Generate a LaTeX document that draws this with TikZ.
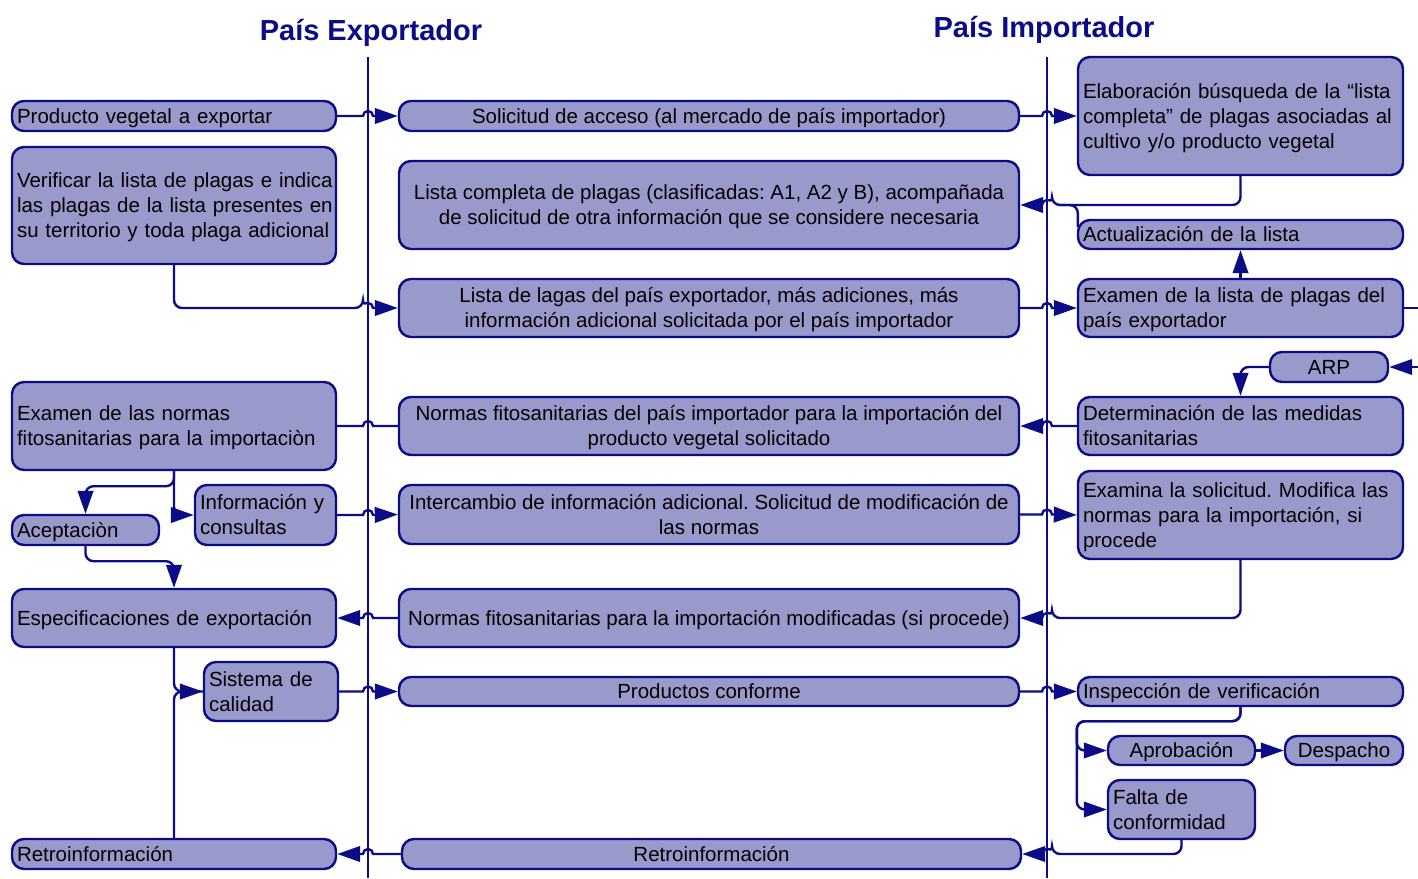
\documentclass[tikz,border=0pt]{standalone}
\usepackage{fontspec}
\setmainfont{Liberation Sans}
\usetikzlibrary{arrows.meta,calc}
\definecolor{navy}{RGB}{12,12,135}
\definecolor{boxfill}{RGB}{153,153,204}
\newcommand\st{\rule[-5pt]{0pt}{24.6pt}}
\tikzset{
 box/.style={draw=navy, fill=boxfill, line width=2.4pt, rounded corners=12pt, inner xsep=5pt, inner ysep=0pt, font=\fontsize{20.5}{25}\selectfont\frenchspacing, text=black},
 conn/.style={draw=navy, line width=2.4pt},
 arr/.style={conn, -{Triangle[length=23pt,width=15.5pt]}},
 hopR/.style={to path={-- ($(\tikztostart -| #1)+(-5,0)$) arc[start angle=180,end angle=0,radius=5pt] -- (\tikztotarget)}},
 hopL/.style={to path={-- ($(\tikztostart -| #1)+(5,0)$) arc[start angle=0,end angle=180,radius=5pt] -- (\tikztotarget)}},
 ttl/.style={text=navy, font=\fontsize{29}{34}\selectfont\bfseries}
}
\newcommand\bxl[6]{%
\pgfmathsetmacro\bxw{#4-#2}%
\pgfmathsetmacro\bxh{#5-#3}%
\pgfmathsetmacro\bxt{#4-#2-10}%
\pgfmathsetmacro\bxcx{(#2+#4)/2}%
\pgfmathsetmacro\bxcy{(#3+#5)/2}%
\node[box, minimum width=\bxw pt, minimum height=\bxh pt, text width=\bxt pt, align=left] (#1) at (\bxcx,\bxcy) {\st #6\st};}
\newcommand\bxc[6]{%
\pgfmathsetmacro\bxw{#4-#2}%
\pgfmathsetmacro\bxh{#5-#3}%
\pgfmathsetmacro\bxcx{(#2+#4)/2}%
\pgfmathsetmacro\bxcy{(#3+#5)/2}%
\node[box, minimum width=\bxw pt, minimum height=\bxh pt, align=center] (#1) at (\bxcx,\bxcy) {\st #6\st};}
\begin{document}
\begin{tikzpicture}[x=1pt,y=-1pt]
\useasboundingbox (0,0) rectangle (1418,878);
\node[ttl] (t1) at (371,33) {País Exportador};
\node[ttl] (t2) at (1044,30) {País Importador};
\coordinate (v1) at (368,57); \coordinate (v1b) at (368,878);
\coordinate (v2) at (1047,57); \coordinate (v2b) at (1047,878);
\draw[conn] (v1) -- (v1b);
\draw[conn] (v2) -- (v2b);
% left column
\bxl{prod}{12}{101}{336}{131}{Producto vegetal a exportar}
\bxl{verif}{12}{147}{336}{264}{\mbox{Verificar la lista de plagas e indica}\\\mbox{las plagas de la lista presentes en}\\\mbox{su territorio y toda plaga adicional}}
\bxl{exn}{12}{382}{336}{470}{Examen de las normas\\\mbox{fitosanitarias para la importaciòn}}
\bxl{acep}{12}{515}{159}{545}{Aceptaciòn}
\bxl{info}{195}{485}{336}{545}{Información y\\consultas}
\bxl{espec}{12}{589}{336}{647}{Especificaciones de exportación}
\bxl{sist}{204}{662}{338}{721}{Sistema de\\calidad}
\bxl{retl}{12}{839}{336}{869}{Retroinformación}
% middle column
\bxc{sol}{399}{101}{1019}{131}{Solicitud de acceso (al mercado de país importador)}
\bxc{lc}{399}{161}{1019}{249}{Lista completa de plagas (clasificadas: A1, A2 y B), acompañada\\de solicitud de otra información que se considere necesaria}
\bxc{lagas}{399}{279}{1019}{337}{Lista de lagas del país exportador, más adiciones, más\\información adicional solicitada por el país importador}
\bxc{nfi}{399}{397}{1019}{455}{Normas fitosanitarias del país importador para la importación del\\producto vegetal solicitado}
\bxc{inter}{399}{485}{1019}{544}{Intercambio de información adicional. Solicitud de modificación de\\las normas}
\bxc{nmod}{399}{589}{1019}{647}{Normas fitosanitarias para la importación modificadas (si procede)}
\bxc{pconf}{399}{677}{1019}{706}{Productos conforme}
\bxc{retm}{402}{839}{1021}{869}{Retroinformación}
% right column
\bxl{elab}{1078}{57}{1403}{175}{\mbox{Elaboración búsqueda de la “lista}\\\mbox{completa” de plagas asociadas al}\\\mbox{cultivo y/o producto vegetal}}
\bxl{act}{1078}{220}{1403}{249}{Actualización de la lista}
\bxl{exam}{1078}{279}{1403}{337}{\mbox{Examen de la lista de plagas del}\\país exportador}
\bxc{arp}{1270}{352}{1388}{382}{ARP}
\bxl{det}{1078}{397}{1403}{455}{Determinación de las medidas\\fitosanitarias}
\bxl{examina}{1078}{471}{1403}{559}{\mbox{Examina la solicitud. Modifica las}\\\mbox{normas para la importación, si}\\procede}
\bxl{insp}{1078}{677}{1403}{706}{Inspección de verificación}
\bxc{apro}{1108}{736}{1255}{765}{Aprobación}
\bxc{desp}{1285}{736}{1403}{765}{Despacho}
\bxl{falta}{1108}{780}{1255}{839}{Falta de\\conformidad}
% connectors
\draw[arr] (prod.east) to[hopR=v1] (sol.west);
\draw[arr] (sol.east) to[hopR=v2] (elab.west);
\draw[arr, rounded corners=8pt] (elab.south) |- ($(lc.east -| v2)+(5,0)$) [sharp corners] arc[start angle=0,end angle=180,radius=5pt] -- (lc.east);
\draw[conn, rounded corners=8pt] ($(act.north west)+(1,8)$) |- ($(lc.east -| v2)+(12,0)$);
\draw[arr] (exam.north) -- (act.south);
\coordinate (exr) at (1418,308);
\coordinate (arpr) at (1418,367);
\draw[conn] (exam.east) -- (exr);
\draw[arr] (arpr) -- (arp.east);
\draw[arr, rounded corners=8pt] (arp.west) -| (det.north);
\draw[arr, rounded corners=8pt] (verif.south) |- ($(lagas.west -| v1)+(-5,0)$) [sharp corners] arc[start angle=180,end angle=0,radius=5pt] -- (lagas.west);
\draw[arr] (lagas.east) to[hopR=v2] (exam.west);
\draw[arr] (det.west) to[hopL=v2] (nfi.east);
\draw[conn] (nfi.west) to[hopL=v1] (exn.east);
\draw[arr, rounded corners=8pt] (exn.south) -- ++(0,15) -| (acep.north);
\draw[arr, rounded corners=8pt] (exn.south) |- (info.west);
\draw[arr] (info.east) to[hopR=v1] (inter.west);
\draw[arr] (inter.east) to[hopR=v2] (examina.west);
\draw[arr, rounded corners=8pt] (examina.south) |- ($(nmod.east -| v2)+(5,0)$) [sharp corners] arc[start angle=0,end angle=180,radius=5pt] -- (nmod.east);
\draw[arr] (nmod.west) to[hopL=v1] (espec.east);
\draw[arr, rounded corners=8pt] (acep.south) -- ++(0,15) -| (espec.north);
\draw[arr, rounded corners=8pt] (espec.south) |- (sist.west);
\draw[conn, rounded corners=8pt] (retl.north) |- (sist.west);
\draw[arr] (sist.east) to[hopR=v1] (pconf.west);
\draw[arr] (pconf.east) to[hopR=v2] (insp.west);
\draw[arr, rounded corners=8pt] (insp.south) -- ++(0,14) -| ($(apro.west)+(-30,0)$) -- (apro.west);
\draw[arr, rounded corners=8pt] (insp.south) -- ++(0,14) -| ($(falta.west)+(-30,0)$) -- (falta.west);
\draw[arr] (apro.east) -- (desp.west);
\draw[arr, rounded corners=8pt] (falta.south) |- ($(retm.east -| v2)+(5,0)$) [sharp corners] arc[start angle=0,end angle=180,radius=5pt] -- (retm.east);
\draw[arr] (retm.west) to[hopL=v1] (retl.east);
\end{tikzpicture}
\end{document}
